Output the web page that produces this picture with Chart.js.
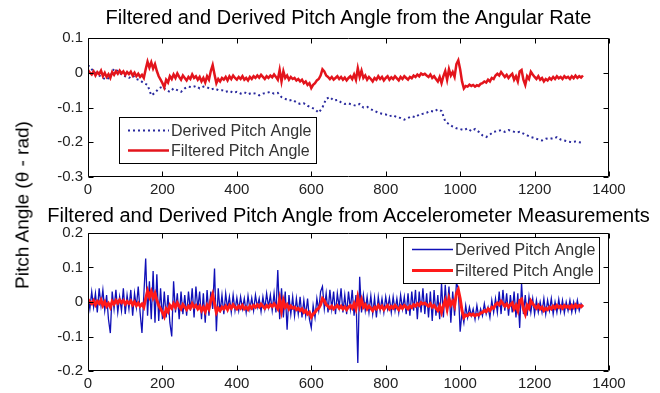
<!DOCTYPE html>
<html lang="en">
<head>
<meta charset="UTF-8">
<title>Pitch Angle</title>
<script src="https://cdn.jsdelivr.net/npm/chart.js@4.4.0/dist/chart.umd.min.js"></script>
<style>
    html, body {
        margin: 0;
        padding: 0;
        background: #fff;
    }
    #page {
        position: relative;
        width: 660px;
        height: 393px;
        overflow: hidden;
        font-family: 'Liberation Sans', Arial, sans-serif;
        color: #000;
    }
    #topChart { position: absolute; left: 0; top: 0; }
    #bottomChart { position: absolute; left: 0; top: 200px; }
    .plotTitle {
        position: absolute;
        left: 348.5px;
        transform: translate(-50%, -50%);
        white-space: nowrap;
        line-height: 1;
        font-size: 20px;
    }
    #topTitle { top: 17px; }
    #bottomTitle { top: 215px; }
    #yLabel {
        position: absolute;
        left: 22px;
        top: 205px;
        transform: translate(-50%, -50%) rotate(-90deg);
        font-size: 19px;
        white-space: nowrap;
        line-height: 1;
    }
</style>
</head>
<body>
<div id="page">
    <canvas id="topChart" width="660" height="200"></canvas>
    <canvas id="bottomChart" width="660" height="193"></canvas>
    <div class="plotTitle" id="topTitle">Filtered and Derived Pitch Angle from the Angular Rate</div>
    <div class="plotTitle" id="bottomTitle">Filtered and Derived Pitch Angle from Accelerometer Measurements</div>
    <div id="yLabel">Pitch Angle (&theta; - rad)</div>
</div>

<script>
    const SERIES_NAMES = ['Derived Pitch Angle', 'Filtered Pitch Angle'];
    const X_TICKS = [0, 200, 400, 600, 800, 1000, 1200, 1400];
    const Y_TICKS_TOP = [0.1, 0, -0.1, -0.2, -0.3];
    const Y_TICKS_BOTTOM = [0.2, 0.1, 0, -0.1, -0.2];

    // filtered pitch (rad), one value every 5 samples, rows of 100 samples
    const FILT_STEP = 5;
    const filteredPitch = [
        0.008, 0.0, -0.005, 0.004, -0.008, 0.002, -0.004, 0.006, -0.01, 0.0, -0.012, -0.004, -0.015, 0.002, -0.006, 0.004, -0.003, 0.006, -0.002, 0.004,
        -0.006, 0.002, -0.004, 0.003, -0.008, 0.0, -0.01, -0.003, -0.012, -0.006, -0.015, 0.01, 0.032, 0.015, 0.03, 0.012, 0.025, 0.005, -0.01, -0.02,
        -0.03, -0.042, -0.02, -0.028, -0.01, -0.018, -0.005, -0.015, -0.002, -0.012, -0.02, -0.008, -0.015, -0.022, -0.012, -0.018, -0.005, -0.015, -0.01, -0.02,
        -0.012, -0.025, -0.015, -0.028, -0.01, -0.02, 0.005, 0.022, -0.005, -0.03, -0.018, -0.025, -0.015, -0.02, -0.012, -0.022, -0.01, -0.018, -0.008, -0.015,
        -0.02, -0.012, -0.018, -0.01, -0.02, -0.015, -0.022, -0.012, -0.018, -0.01, -0.015, -0.008, -0.014, -0.006, -0.012, -0.018, -0.01, -0.015, -0.008, -0.013,
        -0.005, -0.012, -0.02, 0.008, -0.025, 0.004, -0.015, -0.008, -0.02, -0.012, -0.018, -0.015, -0.022, -0.018, -0.025, -0.02, -0.03, -0.025, -0.035, -0.03,
        -0.044, -0.035, -0.03, -0.022, -0.018, -0.008, 0.01, 0.004, -0.008, -0.012, -0.018, -0.012, -0.02, -0.015, -0.01, -0.018, -0.012, -0.02, -0.014, -0.022,
        -0.015, -0.01, -0.018, -0.005, -0.02, 0.013, -0.012, 0.006, -0.015, -0.008, -0.02, -0.012, -0.018, -0.025, -0.015, -0.02, -0.01, -0.018, -0.012, -0.022,
        -0.015, -0.01, -0.02, -0.013, -0.018, -0.01, -0.016, -0.022, -0.012, -0.018, -0.01, -0.015, -0.02, -0.012, -0.016, -0.008, -0.012, -0.005, -0.01, -0.002,
        -0.006, -0.003, -0.008, -0.012, -0.005, -0.015, -0.01, -0.018, -0.025, -0.012, -0.03, -0.01, 0.005, -0.02, 0.01, -0.008, 0.002, -0.012, 0.025, 0.036,
        0.01, -0.025, -0.045, -0.038, -0.04, -0.034, -0.038, -0.035, -0.04, -0.036, -0.038, -0.032, -0.03, -0.025, -0.028, -0.02, -0.025, -0.015, -0.018, -0.008,
        -0.003, -0.008, 0.002, -0.005, -0.012, -0.006, -0.015, -0.008, -0.003, -0.02, -0.01, -0.025, 0.004, 0.008, -0.02, -0.035, -0.01, -0.018, 0.003, -0.005,
        -0.012, -0.018, -0.01, -0.02, -0.015, -0.025, -0.018, -0.022, -0.015, -0.02, -0.012, -0.018, -0.01, -0.016, -0.012, -0.018, -0.01, -0.015, -0.012, -0.018,
        -0.01, -0.016, -0.008, -0.015, -0.01, -0.014, -0.008
    ];

    // pitch integrated from the angular rate, one value every 10 samples
    const GYRO_STEP = 10;
    const gyroDerivedPitch = [
        0.022, 0.01, 0.0, -0.008, -0.015, -0.02, -0.01, 0.012, 0.005, -0.005,
        -0.01, -0.015, -0.008, -0.018, -0.022, -0.03, -0.035, -0.065, -0.058, -0.045,
        -0.04, -0.05, -0.055, -0.045, -0.05, -0.055, -0.045, -0.04, -0.042, -0.038,
        -0.045, -0.04, -0.042, -0.048, -0.045, -0.05, -0.05, -0.055, -0.052, -0.058,
        -0.055, -0.06, -0.056, -0.062, -0.058, -0.06, -0.065, -0.06, -0.058, -0.055,
        -0.06, -0.058, -0.07, -0.075, -0.08, -0.078, -0.085, -0.09, -0.088, -0.095,
        -0.1, -0.105, -0.115, -0.1, -0.075, -0.07, -0.08, -0.078, -0.085, -0.09,
        -0.088, -0.092, -0.095, -0.09, -0.1, -0.098, -0.105, -0.11, -0.115, -0.118,
        -0.12, -0.125, -0.122, -0.128, -0.13, -0.135, -0.13, -0.125, -0.128, -0.12,
        -0.118, -0.115, -0.11, -0.112, -0.105, -0.11, -0.14, -0.148, -0.155, -0.16,
        -0.162, -0.165, -0.16, -0.168, -0.162, -0.17, -0.18, -0.185, -0.178, -0.17,
        -0.168, -0.165, -0.17, -0.165, -0.168, -0.172, -0.17, -0.175, -0.18, -0.185,
        -0.188, -0.192, -0.195, -0.19, -0.188, -0.19, -0.185, -0.192, -0.195, -0.198,
        -0.2, -0.198, -0.2, -0.202
    ];

    // pitch from accelerometer measurements, one value every 5 samples
    const ACC_STEP = 5;
    const accelDerivedPitch = [
        0.015, -0.02, 0.03, -0.015, 0.025, -0.03, 0.04, -0.01, 0.035, -0.025, 0.02, -0.05, -0.09, 0.03, -0.02, 0.035, -0.03, 0.015, -0.025, 0.04,
        -0.035, 0.02, -0.02, 0.035, -0.04, 0.025, -0.015, 0.045, -0.03, -0.09, 0.02, 0.126, -0.04, 0.06, -0.05, 0.09, -0.06, 0.08, -0.055, 0.04,
        -0.05, 0.03, -0.045, 0.02, -0.06, -0.1, 0.06, -0.03, 0.025, -0.05, 0.03, -0.035, 0.02, -0.04, 0.03, -0.025, 0.04, -0.045, 0.045, -0.02,
        0.03, -0.05, 0.025, -0.06, 0.035, -0.04, 0.03, -0.02, 0.097, -0.085, 0.04, -0.03, 0.02, -0.035, 0.025, -0.02, 0.015, -0.03, 0.02, -0.025,
        0.012, -0.025, 0.015, -0.02, 0.01, -0.03, 0.018, -0.02, 0.012, -0.025, 0.02, -0.015, 0.01, -0.028, 0.015, -0.02, 0.025, -0.015, 0.02, -0.025,
        0.025, -0.03, 0.093, -0.05, 0.04, -0.045, 0.03, -0.08, 0.02, -0.035, 0.015, -0.04, 0.01, -0.035, 0.015, -0.045, 0.005, -0.04, 0.01, -0.05,
        -0.075, -0.01, -0.045, 0.01, -0.025, 0.03, 0.045, -0.02, 0.025, -0.03, 0.035, -0.02, 0.03, -0.035, 0.025, -0.015, 0.04, -0.03, 0.02, -0.035,
        0.03, -0.02, 0.035, -0.04, 0.02, -0.177, 0.073, -0.03, 0.02, -0.025, 0.015, -0.03, 0.018, -0.035, 0.012, -0.045, 0.015, -0.025, 0.01, -0.03,
        0.015, -0.02, 0.012, -0.03, 0.015, -0.025, 0.01, -0.03, 0.02, -0.02, 0.015, -0.035, 0.025, -0.04, 0.03, -0.025, 0.035, -0.05, 0.03, -0.03,
        0.04, -0.035, 0.025, -0.045, 0.03, -0.055, 0.035, -0.04, 0.02, -0.05, 0.055, -0.045, 0.05, -0.03, 0.045, -0.06, 0.03, -0.04, 0.055, 0.04,
        -0.086, -0.03, -0.06, -0.01, -0.045, -0.015, -0.04, -0.02, -0.05, -0.01, -0.045, -0.02, -0.04, -0.005, -0.035, -0.015, -0.045, 0.005, -0.03, 0.01,
        -0.03, 0.03, -0.035, 0.035, -0.025, 0.025, -0.04, 0.02, -0.03, 0.03, -0.045, 0.025, -0.075, 0.055, -0.035, 0.02, -0.04, 0.015, -0.03, 0.01,
        -0.035, 0.005, -0.03, 0.0, -0.03, 0.01, -0.035, 0.005, -0.025, 0.01, -0.035, 0.0, -0.03, 0.008, -0.028, 0.005, -0.032, 0.0, -0.025, 0.005,
        -0.03, 0.0, -0.028, 0.005, -0.025, -0.005, -0.015
    ];

    const FONT = "'Liberation Sans', Arial, sans-serif";

    function toPoints(values, step) {
        return values.map((v, i) => ({ x: i * step, y: v }));
    }

    function fixedTicks(list) {
        return function(scale) {
            scale.ticks = list.map(v => ({ value: v }));
        };
    }

    // closed axes box with inward tick marks on all four sides
    const axesBox = {
        id: 'axesBox',
        afterDatasetsDraw(chart) {
            const { ctx, chartArea: a, scales } = chart;
            const L = Math.round(a.left) + 0.5, R = Math.round(a.right) - 0.5;
            const T = Math.round(a.top) + 0.5, B = Math.round(a.bottom) - 0.5;
            const len = 5;
            ctx.save();
            ctx.strokeStyle = '#000';
            ctx.lineWidth = 1;
            ctx.beginPath();
            ctx.rect(L, T, R - L, B - T);
            scales.x.ticks.forEach(t => {
                const px = Math.round(scales.x.getPixelForValue(t.value)) + 0.5;
                ctx.moveTo(px, B); ctx.lineTo(px, B - len);
                ctx.moveTo(px, T); ctx.lineTo(px, T + len);
            });
            scales.y.ticks.forEach(t => {
                const py = Math.round(scales.y.getPixelForValue(t.value)) + 0.5;
                ctx.moveTo(L, py); ctx.lineTo(L + len, py);
                ctx.moveTo(R, py); ctx.lineTo(R - len, py);
            });
            ctx.stroke();
            ctx.restore();
        }
    };

    // boxed legend placed inside the plot area
    const boxLegend = {
        id: 'boxLegend',
        afterDraw(chart, args, opts) {
            const { ctx, chartArea: a } = chart;
            const x = Math.round(opts.right != null ? a.right - opts.right - opts.width : a.left + opts.left);
            const y = Math.round(a.top + opts.top);
            ctx.save();
            ctx.fillStyle = '#fff';
            ctx.fillRect(x, y, opts.width, opts.height);
            ctx.strokeStyle = '#000';
            ctx.lineWidth = 1;
            ctx.strokeRect(x + 0.5, y + 0.5, opts.width, opts.height);
            ctx.font = '16px ' + FONT;
            ctx.textBaseline = 'middle';
            chart.data.datasets.forEach((ds, i) => {
                const cy = Math.round(y + opts.rowTop + i * opts.rowGap) + 0.5;
                ctx.beginPath();
                ctx.strokeStyle = ds.borderColor;
                ctx.lineWidth = ds.borderWidth;
                ctx.setLineDash(ds.borderDash || []);
                ctx.moveTo(x + 9, cy);
                ctx.lineTo(x + 50, cy);
                ctx.stroke();
                ctx.setLineDash([]);
                ctx.fillStyle = '#333';
                ctx.fillText(ds.label, x + 52, cy + 1);
            });
            ctx.restore();
        }
    };

    function makeChart(id, cfg) {
        return new Chart(document.getElementById(id), {
            type: 'line',
            data: { datasets: cfg.datasets },
            plugins: [axesBox, boxLegend],
            options: {
                responsive: false,
                animation: false,
                events: [],
                layout: { padding: { left: 0, right: 51, top: cfg.topGap, bottom: 0 } },
                elements: { point: { radius: 0 }, line: { tension: 0 } },
                plugins: {
                    legend: { display: false },
                    tooltip: { enabled: false },
                    boxLegend: cfg.legend
                },
                scales: {
                    x: {
                        type: 'linear',
                        min: 0,
                        max: 1400,
                        afterBuildTicks: fixedTicks(X_TICKS),
                        afterFit: s => { s.height = cfg.xAxisHeight; },
                        grid: { display: false, drawTicks: false },
                        border: { display: false },
                        ticks: {
                            color: '#222',
                            padding: 4,
                            maxRotation: 0,
                            font: { family: FONT, size: 15 },
                            callback: v => String(v)
                        }
                    },
                    y: {
                        min: cfg.yTicks[cfg.yTicks.length - 1],
                        max: cfg.yTicks[0],
                        afterBuildTicks: fixedTicks(cfg.yTicks),
                        afterFit: s => { s.width = 88; },
                        grid: { display: false, drawTicks: false },
                        border: { display: false },
                        ticks: {
                            color: '#222',
                            padding: 5,
                            font: { family: FONT, size: 15 },
                            callback: v => String(Math.round(v * 10) / 10)
                        }
                    }
                }
            }
        });
    }

    makeChart('topChart', {
        topGap: 38,
        xAxisHeight: 23,
        yTicks: Y_TICKS_TOP,
        legend: { left: 31, top: 79, width: 197, height: 46, rowTop: 13, rowGap: 20 },
        datasets: [
            {
                label: SERIES_NAMES[0],
                data: toPoints(gyroDerivedPitch, GYRO_STEP),
                borderColor: '#2a2a9e',
                borderWidth: 2,
                borderDash: [2, 3],
                order: 1
            },
            {
                label: SERIES_NAMES[1],
                data: toPoints(filteredPitch, FILT_STEP),
                borderColor: '#e3141c',
                borderWidth: 2.5,
                order: 0
            }
        ]
    });

    makeChart('bottomChart', {
        topGap: 33,
        xAxisHeight: 22,
        yTicks: Y_TICKS_BOTTOM,
        legend: { right: 10, top: 4, width: 196, height: 46, rowTop: 12, rowGap: 21 },
        datasets: [
            {
                label: SERIES_NAMES[0],
                data: toPoints(accelDerivedPitch, ACC_STEP),
                borderColor: '#1010b8',
                borderWidth: 1.3,
                order: 1
            },
            {
                label: SERIES_NAMES[1],
                data: toPoints(filteredPitch, FILT_STEP),
                borderColor: '#ff1a1a',
                borderWidth: 3,
                order: 0
            }
        ]
    });
</script>
</body>
</html>
